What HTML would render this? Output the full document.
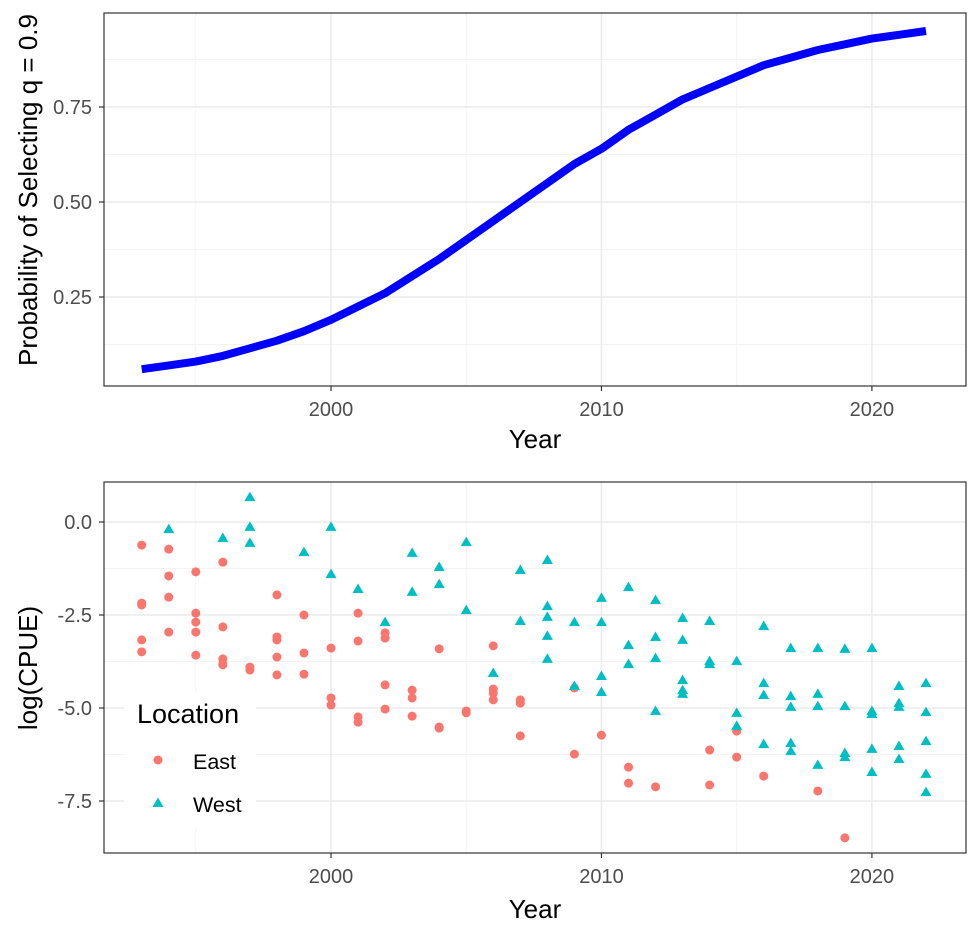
<!DOCTYPE html>
<html><head><meta charset="utf-8"><style>
html,body{margin:0;padding:0;background:#fff;}
svg text{font-family:"Liberation Sans",Arial,sans-serif;}
</style></head><body>
<svg id="c" width="980" height="937" xmlns="http://www.w3.org/2000/svg"></svg>
<script>
const years = [1993,1994,1995,1996,1997,1998,1999,2000,2001,2002,2003,2004,2005,2006,2007,2008,2009,2010,2011,2012,2013,2014,2015,2016,2017,2018,2019,2020,2021,2022];
const probValues = [0.06,0.07,0.08,0.095,0.115,0.135,0.16,0.19,0.225,0.26,0.305,0.35,0.40,0.45,0.50,0.55,0.60,0.64,0.69,0.73,0.77,0.80,0.83,0.86,0.88,0.90,0.915,0.93,0.94,0.95];
const eastYears = [1993,1993,1993,1993,1993,1994,1994,1994,1994,1995,1995,1995,1995,1995,1996,1996,1996,1996,1996,1997,1997,1998,1998,1998,1998,1998,1999,1999,1999,2000,2000,2000,2001,2001,2001,2001,2002,2002,2002,2002,2003,2003,2003,2004,2004,2004,2005,2005,2006,2006,2006,2006,2007,2007,2007,2009,2009,2010,2011,2011,2012,2014,2014,2015,2015,2016,2018,2019];
const eastValues = [-0.62,-2.18,-2.23,-3.17,-3.49,-0.73,-1.45,-2.02,-2.96,-1.34,-2.45,-2.69,-2.96,-3.58,-1.08,-2.82,-3.68,-3.82,-3.84,-3.9,-3.98,-1.96,-3.09,-3.17,-3.63,-4.11,-2.5,-3.52,-4.09,-3.39,-4.73,-4.92,-2.45,-3.2,-5.24,-5.38,-2.98,-3.12,-4.38,-5.03,-4.52,-4.73,-5.22,-3.41,-5.51,-5.54,-5.08,-5.13,-3.33,-4.49,-4.6,-4.78,-4.78,-4.87,-5.75,-4.46,-6.24,-5.73,-6.59,-7.02,-7.12,-6.13,-7.07,-5.62,-6.32,-6.83,-7.23,-8.49];
const westYears = [1994,1996,1997,1997,1997,1999,2000,2000,2001,2002,2003,2003,2004,2004,2005,2005,2006,2007,2007,2008,2008,2008,2008,2008,2009,2009,2010,2010,2010,2010,2011,2011,2011,2012,2012,2012,2012,2013,2013,2013,2013,2013,2014,2014,2014,2015,2015,2015,2016,2016,2016,2016,2017,2017,2017,2017,2017,2018,2018,2018,2018,2019,2019,2019,2019,2020,2020,2020,2020,2020,2021,2021,2021,2021,2021,2022,2022,2022,2022,2022];
const westValues = [-0.19,-0.43,0.67,-0.13,-0.56,-0.81,-0.13,-1.4,-1.8,-2.69,-0.83,-1.88,-1.21,-1.67,-0.54,-2.37,-4.06,-1.29,-2.66,-1.02,-2.26,-2.55,-3.06,-3.68,-2.69,-4.41,-2.04,-2.69,-4.14,-4.57,-1.75,-3.31,-3.82,-2.1,-3.09,-3.66,-5.08,-2.58,-3.17,-4.25,-4.52,-4.62,-2.66,-3.74,-3.82,-3.74,-5.13,-5.48,-2.8,-4.33,-4.65,-5.97,-3.39,-4.68,-4.97,-5.94,-6.16,-3.39,-4.62,-4.95,-6.53,-3.41,-4.95,-6.21,-6.32,-3.39,-5.08,-5.16,-6.1,-6.72,-4.41,-4.87,-4.97,-6.02,-6.37,-4.33,-5.11,-5.89,-6.77,-7.26];
const xTicks = [2000,2010,2020];
const xMinor = [1995,2005,2015];
const topTicks = [0.25,0.5,0.75];
const topTickLabels = ["0.25","0.50","0.75"];
const topMinor = [0.125,0.375,0.625,0.875];
const botTicks = [0,-2.5,-5,-7.5];
const botTickLabels = ["0.0","-2.5","-5.0","-7.5"];
const botMinor = [1.25,-1.25,-3.75,-6.25];

const NS="http://www.w3.org/2000/svg";
const svgEl=document.getElementById('c');
function mk(tag,attrs,parent,text){const e=document.createElementNS(NS,tag);for(const k in attrs)e.setAttribute(k,attrs[k]);if(text!==undefined)e.textContent=text;(parent||svgEl).appendChild(e);return e;}
const L=104,R=966;
const xs=y=>141.7+(y-1993)*(926-141.7)/29;
const yTop=v=>297+(0.25-v)*380;
const yBot=v=>522-v*37.2;

function panel(name,T,B,yf,ticks,labels,minor){
  const g=mk('g',{});
  
  
  mk('rect',{x:L,y:T,width:R-L,height:B-T,fill:'#fff'},g);
  minor.forEach(v=>{const y=yf(v);if(y>T&&y<B)mk('line',{x1:L,x2:R,y1:y,y2:y,stroke:'#f3f3f3','stroke-width':1},g);});
  xMinor.forEach(v=>mk('line',{x1:xs(v),x2:xs(v),y1:T,y2:B,stroke:'#f3f3f3','stroke-width':1},g));
  ticks.forEach(v=>mk('line',{x1:L,x2:R,y1:yf(v),y2:yf(v),stroke:'#ebebeb','stroke-width':1.5},g));
  xTicks.forEach(v=>mk('line',{x1:xs(v),x2:xs(v),y1:T,y2:B,stroke:'#ebebeb','stroke-width':1.5},g));
  ticks.forEach((v,i)=>{
    mk('line',{x1:L-5,x2:L,y1:yf(v),y2:yf(v),stroke:'#333','stroke-width':1.2},g);
    const t=mk('text',{x:L-12,y:yf(v)+7,'text-anchor':'end','font-size':20,fill:'#4d4d4d'},g,labels[i]);
    
    
  });
  xTicks.forEach(v=>{
    mk('line',{x1:xs(v),x2:xs(v),y1:B,y2:B+5,stroke:'#333','stroke-width':1.2},g);
    const t=mk('text',{x:xs(v),y:B+30,'text-anchor':'middle','font-size':20,fill:'#4d4d4d'},g,String(v));
    
    
  });
  return g;
}

const topG=panel('probability-panel',13,386,yTop,topTicks,topTickLabels,topMinor);
const pts=years.map((y,i)=>xs(y).toFixed(1)+','+yTop(probValues[i]).toFixed(1)).join(' ');
const probLine=mk('polyline',{points:pts,fill:'none',stroke:'#0000ff','stroke-width':8,'stroke-linejoin':'round'},topG);


mk('rect',{x:L,y:13,width:R-L,height:373,fill:'none',stroke:'#333','stroke-width':1.2},topG);

const botG=panel('cpue-panel',482,853,yBot,botTicks,botTickLabels,botMinor);
eastYears.forEach((y,i)=>{
  const c=mk('circle',{cx:xs(y),cy:yBot(eastValues[i]),r:4.5,fill:'#F8766D'},botG);
  
  
});
westYears.forEach((y,i)=>{
  const x=xs(y),yy=yBot(westValues[i]);
  const p=mk('polygon',{points:`${x},${yy-5.5} ${x-5.5},${yy+4} ${x+5.5},${yy+4}`,fill:'#00BFC4'},botG);
  
  
});
mk('rect',{x:L,y:482,width:R-L,height:371,fill:'none',stroke:'#333','stroke-width':1.2},botG);

const lg=mk('g',{});


mk('rect',{x:124,y:692,width:132,height:136,fill:'#fff'},lg);
mk('text',{x:137,y:723,'font-size':27,fill:'#000'},lg,'Location');
const le=mk('circle',{cx:158,cy:760,r:4.5,fill:'#F8766D'},lg);


mk('text',{x:193,y:769,'font-size':21.5,fill:'#000'},lg,'East');
const lw=mk('polygon',{points:'158,797.5 152.5,807 163.5,807',fill:'#00BFC4'},lg);


mk('text',{x:193,y:812,'font-size':21.5,fill:'#000'},lg,'West');

[[535,448,'Year','x-axis-title-top'],[535,918,'Year','x-axis-title-bottom']].forEach(a=>{
  const t=mk('text',{x:a[0],y:a[1],'text-anchor':'middle','font-size':26,fill:'#000'},svgEl,a[2]);
  
  
});
const yt1=mk('text',{x:0,y:0,transform:'translate(37,190) rotate(-90)','text-anchor':'middle','font-size':26,fill:'#000'},svgEl,'Probability of Selecting q = 0.9');


const yt2=mk('text',{x:0,y:0,transform:'translate(37,668) rotate(-90)','text-anchor':'middle','font-size':26,fill:'#000'},svgEl,'log(CPUE)');


</script>
</body></html>
